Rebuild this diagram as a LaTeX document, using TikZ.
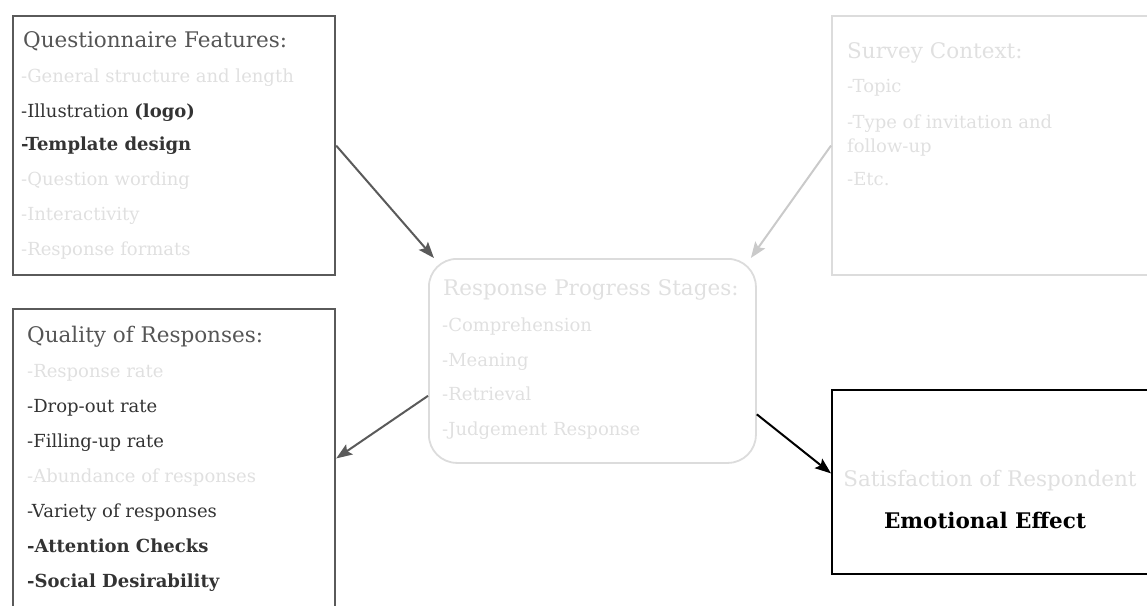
\documentclass[tikz,border=0pt]{standalone}
\usepackage{fontspec}
\setmainfont{DejaVu Serif}
\usetikzlibrary{arrows.meta,positioning}

\definecolor{boxdark}{HTML}{5A5A5A}
\definecolor{boxlight}{HTML}{DCDCDC}
\definecolor{headgray}{HTML}{555555}
\definecolor{textdark}{HTML}{333333}
\definecolor{faded}{HTML}{E0E0E0}
\definecolor{linklight}{HTML}{CACACA}

\tikzset{
  panel/.style={draw, line width=2.2pt, anchor=north west, inner sep=0pt},
  heading/.style={anchor=base west, inner sep=0pt, font=\fontsize{21.5}{24}\selectfont},
  entry/.style={anchor=base west, inner sep=0pt, font=\fontsize{18}{20}\selectfont},
  link/.style={line width=2pt, -{Stealth[length=16pt,width=12pt,inset=3pt]}}
}

\begin{document}
\begin{tikzpicture}[x=1pt,y=-1pt]
  \useasboundingbox (0,0) rectangle (1147,605);
  \clip (0,0) rectangle (1147,605);
  % the boxes
  \node[panel, boxdark, minimum width=322pt, minimum height=259pt] (qf) at (12,15) {};
  \node[panel, boxdark, minimum width=322pt, minimum height=310pt] (qr) at (12,308) {};
  \node[panel, boxlight, line width=1.8pt, rounded corners=28pt, minimum width=327pt, minimum height=204pt] (mid) at (428,258) {};
  \node[panel, boxlight, minimum width=330pt, minimum height=259pt] (sc) at (831,15) {};
  \node[panel, black, minimum width=330pt, minimum height=184pt] (sr) at (831,389) {};
  % questionnaire features
  \node[heading, headgray] (qf-t) at (23,47) {Questionnaire Features:};
  \node[entry, faded] (qf-1) at (21,82) {-General structure and length};
  \node[entry, textdark] (qf-2) at (21,117) {-Illustration \textbf{(logo)}};
  \node[entry, textdark] (qf-3) at (21,150) {\textbf{-Template design}};
  \node[entry, faded] (qf-4) at (21,185) {-Question wording};
  \node[entry, faded] (qf-5) at (21,220) {-Interactivity};
  \node[entry, faded] (qf-6) at (21,255) {-Response formats};
  % quality of responses
  \node[heading, headgray] (qr-t) at (27,342) {Quality of Responses:};
  \node[entry, faded] (qr-1) at (27,377) {-Response rate};
  \node[entry, textdark] (qr-2) at (27,412) {-Drop-out rate};
  \node[entry, textdark] (qr-3) at (27,447) {-Filling-up rate};
  \node[entry, faded] (qr-4) at (27,482) {-Abundance of responses};
  \node[entry, textdark] (qr-5) at (27,517) {-Variety of responses};
  \node[entry, textdark] (qr-6) at (27,552) {\textbf{-Attention Checks}};
  \node[entry, textdark] (qr-7) at (27,587) {\textbf{-Social Desirability}};
  % response progress stages
  \node[heading, faded] (mid-t) at (443,295) {Response Progress Stages:};
  \node[entry, faded] (mid-1) at (442,331) {-Comprehension};
  \node[entry, faded] (mid-2) at (442,366) {-Meaning};
  \node[entry, faded] (mid-3) at (442,400) {-Retrieval};
  \node[entry, faded] (mid-4) at (442,435) {-Judgement Response};
  % survey context
  \node[heading, faded] (sc-t) at (847,58) {Survey Context:};
  \node[entry, faded] (sc-1) at (847,92) {-Topic};
  \node[entry, faded] (sc-2) at (847,128) {-Type of invitation and};
  \node[entry, faded] (sc-3) at (847,152) {follow-up};
  \node[entry, faded] (sc-4) at (847,185) {-Etc.};
  % satisfaction
  \node[heading, faded, anchor=base] (sr-t) at (990,486) {Satisfaction of Respondent};
  \node[heading, black, anchor=base] (sr-1) at (985,528) {\textbf{Emotional Effect}};
  % the links
  \draw[link, boxdark] (qf.east) -- (mid.147);
  \draw[link, linklight] (sc.west) -- (mid.33);
  \draw[link, boxdark] (mid.192) -- (qr.2);
  \draw[link, black] (mid.-18) -- (sr.177);
\end{tikzpicture}
\end{document}
